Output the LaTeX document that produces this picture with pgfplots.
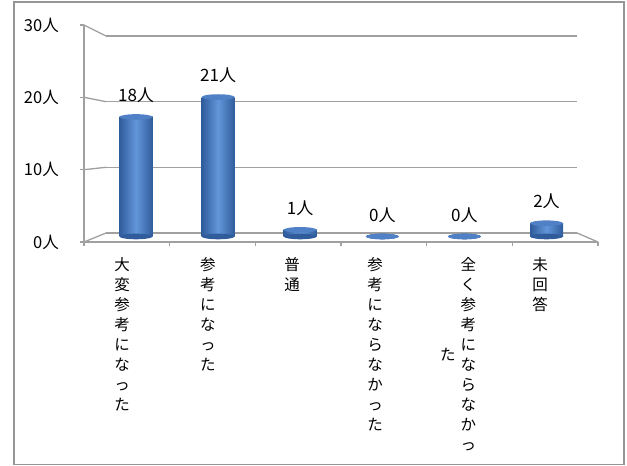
\documentclass[border=0pt]{standalone}
\usepackage{fontspec}
\setmainfont{Noto Sans CJK JP}
\usepackage{pgfplots}
\pgfplotsset{compat=1.18}
\definecolor{gridgray}{RGB}{160,160,160}
\definecolor{framegray}{RGB}{150,150,150}
\definecolor{barDark}{RGB}{48,92,155}
\definecolor{barLight}{RGB}{98,150,218}
\definecolor{barTop}{RGB}{80,128,198}
\newcommand\vt[1]{\begin{tabular}{@{}c@{}}#1\end{tabular}}
\newcommand\lA{\vt{大\\変\\参\\考\\に\\な\\っ\\た}}
\newcommand\lB{\vt{参\\考\\に\\な\\っ\\た}}
\newcommand\lC{\vt{普\\通}}
\newcommand\lD{\vt{参\\考\\に\\な\\ら\\な\\か\\っ\\た}}
\newcommand\lE{\begin{tabular}{@{}c@{\hspace{5bp}}c@{}}\vt{た}&\vt{全\\く\\参\\考\\に\\な\\ら\\な\\か\\っ}\end{tabular}}
\newcommand\lF{\vt{未\\回\\答}}
\pgfdeclareplotmark{cyl}{\pgfpathellipse{\pgfpointorigin}{\pgfqpoint{16.5bp}{0pt}}{\pgfqpoint{0pt}{2.8bp}}\pgfusepathqfill}
\pgfplotsset{cylbar/.style={ybar, bar width=33bp, draw=none, left color=barDark, right color=barDark, middle color=barLight}}
\begin{document}
\begin{tikzpicture}[x=1bp,y=1bp]
\path[use as bounding box] (0,0) rectangle (627,466);
\draw[framegray, line width=1.2bp] (14,1.5) rectangle (624,464);
% back wall gridlines
\begin{axis}[at={(106bp,233bp)}, anchor=south west, scale only axis,
  width=471bp, height=197bp, xmin=0, xmax=1, ymin=0, ymax=30,
  ytick={0,10,20,30}, yticklabels={}, xtick=\empty,
  ymajorgrids, grid style={gridgray, line width=1.3bp},
  axis line style={draw=none}, major tick length=0pt]
\end{axis}
% front axes
\begin{axis}[at={(84bp,224bp)}, anchor=south west, scale only axis,
  width=514bp, height=217bp, xmin=0, xmax=6, ymin=0, ymax=30,
  axis x line=bottom, axis y line=left,
  axis line style={-, draw=gridgray, line width=1.3bp},
  xtick={0,1,2,3,4,5,6}, xticklabels={},
  ytick={0,10,20,30}, yticklabels={0人,10人,20人,30人},
  tick align=outside, major tick length=4bp,
  tick style={draw=gridgray, line width=1.3bp},
  yticklabel style={font=\fontsize{16.5bp}{18bp}\selectfont, inner sep=0pt, anchor=east, xshift=-21bp},
  extra x ticks={0.444,1.447,2.428,3.397,4.366,5.323},
  extra x tick labels={\lA,\lB,\lC,\lD,\lE,\lF},
  extra x tick style={major tick length=0pt,
    xticklabel style={anchor=north, inner sep=0pt, yshift=-14bp, font=\fontsize{15.5bp}{20bp}\selectfont}}]
\end{axis}
\draw[gridgray, line width=1.3bp] (84,441)--(106,430) (84,368.7)--(106,364.3)
  (84,296.3)--(106,298.7) (84,224)--(106,233) (577,233)--(598,224);
% bars
\begin{axis}[at={(94.95bp,229.5bp)}, anchor=south west, scale only axis,
  width=492.6bp, height=199.2bp, xmin=-0.5, xmax=5.5, ymin=0, ymax=30,
  hide axis, clip=false]
\addplot[only marks, mark=cyl, mark options={fill=barDark}]
  coordinates {(0,0) (1,0) (2,0) (3,0) (4,0) (5,0)};
\addplot[cylbar] coordinates {(0,18)};
\addplot[cylbar] coordinates {(1,21)};
\addplot[cylbar] coordinates {(2,1)};
\addplot[cylbar] coordinates {(5,2)};
\addplot[only marks, mark=cyl, mark options={fill=barTop},
  point meta=explicit symbolic, nodes near coords,
  nodes near coords style={font=\fontsize{17bp}{18bp}\selectfont, anchor=south, inner sep=0pt, yshift=14bp, text=black}]
  coordinates {(0,18)[18人] (1,21)[21人] (2,1)[1人] (3,0)[0人] (4,0)[0人] (5,2)[2人]};
\end{axis}
\end{tikzpicture}
\end{document}
